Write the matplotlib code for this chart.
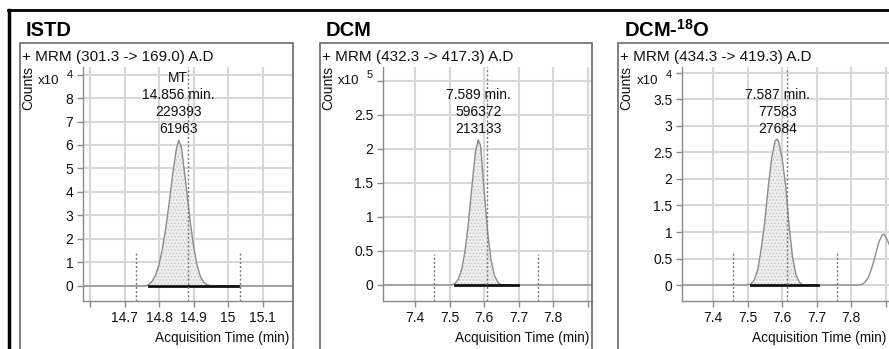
import numpy as np
import matplotlib
matplotlib.use('Agg')
import matplotlib.pyplot as plt
from matplotlib.lines import Line2D
from matplotlib.patches import Rectangle
from matplotlib.transforms import blended_transform_factory

plt.rcParams['font.family'] = ['Liberation Sans', 'DejaVu Sans']
plt.rcParams['mathtext.fontset'] = 'custom'
plt.rcParams['mathtext.rm'] = 'Liberation Sans'
plt.rcParams['mathtext.bf'] = 'Liberation Sans:bold'
plt.rcParams['hatch.linewidth'] = 0.6

W, H = 889, 349

# ---------------- data ----------------
titles = ['ISTD', 'DCM', r'DCM-$^{\mathbf{18}}$O']
headers = ['+ MRM (301.3 -> 169.0) A.D', '+ MRM (432.3 -> 417.3) A.D',
           '+ MRM (434.3 -> 419.3) A.D']
exponents = ['4', '5', '4']

istd_t = [14.58, 14.76, 14.77, 14.78, 14.79, 14.80, 14.81, 14.82, 14.83, 14.84,
          14.85, 14.857, 14.865, 14.87, 14.88, 14.89, 14.90, 14.91, 14.92, 14.93,
          14.94, 14.95, 15.19]
istd_c = [0, 0, 0.05, 0.2, 0.45, 0.9, 1.6, 2.5, 3.6, 4.8,
          5.8, 6.2, 5.9, 5.3, 4.1, 2.8, 1.7, 0.9, 0.4, 0.15,
          0.05, 0, 0]

dcm_t = [7.30, 7.505, 7.515, 7.525, 7.535, 7.545, 7.555, 7.565, 7.575, 7.583,
         7.59, 7.60, 7.61, 7.62, 7.63, 7.64, 7.65, 7.92]
dcm_c = [0, 0, 0.02, 0.08, 0.22, 0.5, 0.92, 1.45, 1.95, 2.13,
         2.05, 1.4, 0.8, 0.38, 0.14, 0.04, 0, 0]

o18_t = [7.30, 7.50, 7.51, 7.52, 7.53, 7.54, 7.55, 7.56, 7.57, 7.58,
         7.586, 7.59, 7.60, 7.61, 7.62, 7.63, 7.64, 7.65, 7.66, 7.82,
         7.83, 7.84, 7.85, 7.86, 7.87, 7.88, 7.89, 7.895, 7.905, 7.915]
o18_c = [0, 0, 0.02, 0.1, 0.3, 0.7, 1.2, 1.85, 2.4, 2.72,
         2.75, 2.7, 2.4, 1.9, 1.15, 0.55, 0.2, 0.06, 0, 0,
         0.01, 0.05, 0.14, 0.32, 0.55, 0.8, 0.94, 0.96, 0.85, 0.7]

# integration: baseline start/end, window markers, expected RT, apex
base_start = [14.77, 7.515, 7.51]
base_end = [15.03, 7.698, 7.704]
win_lo = [14.733, 7.455, 7.458]
win_hi = [15.035, 7.757, 7.759]
win_h = [1.4, 0.46, 0.6]
rt_marker = [14.883, 7.609, 7.614]
apex_t = [14.856, 7.584, 7.586]
labels = [['MT', '14.856 min.', '229393', '61963'],
          ['7.589 min.', '596372', '213133'],
          ['7.587 min.', '77583', '27684']]

xticks = [[14.6, 14.7, 14.8, 14.9, 15.0, 15.1],
          [7.4, 7.5, 7.6, 7.7, 7.8, 7.9],
          [7.4, 7.5, 7.6, 7.7, 7.8, 7.9]]
xticklabels = [['', '14.7', '14.8', '14.9', '15', '15.1'],
               ['7.4', '7.5', '7.6', '7.7', '7.8', ''],
               ['7.4', '7.5', '7.6', '7.7', '7.8', '']]
yticks = [[0, 1, 2, 3, 4, 5, 6, 7, 8, 9],
          [0, 0.5, 1, 1.5, 2, 2.5, 3],
          [0, 0.5, 1, 1.5, 2, 2.5, 3, 3.5, 4]]
yticklabels = [['0', '1', '2', '3', '4', '5', '6', '7', '8', ''],
               ['0', '0.5', '1', '1.5', '2', '2.5', ''],
               ['0', '0.5', '1', '1.5', '2', '2.5', '3', '3.5', '']]

series_t = [istd_t, dcm_t, o18_t]
series_c = [istd_c, dcm_c, o18_c]

# ---------------- layout (pixels) ----------------
frame_l = [20, 320, 618]
frame_r = [293, 592, 900]
ax_l = [83, 383, 682]
ax_r = [292, 592, 889]
ax_t, ax_b = 67, 301
xlims = [(14.5797, 15.1855), (7.3072, 7.913), (7.31, 7.910)]
ylims = [(-0.64, 9.32), (-0.235, 3.2), (-0.3, 4.11)]
label_top = [78, 95, 95]


def fx(px):
    return px / W


def fy(py):
    return 1 - py / H


fig = plt.figure(figsize=(W / 100, H / 100), dpi=100)

# outer black border
fig.add_artist(Line2D([fx(8), 1], [fy(10), fy(10)], color='black', lw=2))
fig.add_artist(Line2D([fx(8.5), fx(8.5)], [fy(10), 0], color='black', lw=2.5))

for i in range(3):
    fig.add_artist(Rectangle((fx(frame_l[i]), -0.1), fx(frame_r[i] - frame_l[i]),
                             fy(43) + 0.1, fill=False, edgecolor='#6a6a6a', lw=1.2))
    fig.text(fx(frame_l[i] + 6), fy(30), titles[i], fontsize=14.5,
             fontweight='bold', va='center', ha='left')
    fig.text(fx(frame_l[i] + 2), fy(57), headers[i], fontsize=11,
             va='center', ha='left', color='#111')
    fig.text(fx(frame_l[i] + 8), fy(66), 'Counts', rotation=90, fontsize=10,
             va='top', ha='center', color='#111')
    fig.text(fx(ax_l[i] - 24), fy(81), 'x10', fontsize=9.5, va='center',
             ha='right', color='#111')
    fig.text(fx(ax_l[i] - 16), fy(75), exponents[i], fontsize=8,
             va='center', ha='left', color='#111')

    ax = fig.add_axes([fx(ax_l[i]), fy(ax_b), fx(ax_r[i] - ax_l[i]),
                       (ax_b - ax_t) / H])
    ax.set_xlim(*xlims[i])
    ax.set_ylim(*ylims[i])
    ax.set_xticks(xticks[i])
    ax.set_xticklabels(xticklabels[i])
    ax.set_yticks(yticks[i])
    ax.set_yticklabels(yticklabels[i])
    ax.grid(True, color='#d8d8d8', lw=1.5)
    ax.set_axisbelow(True)
    for s in ['top', 'right']:
        ax.spines[s].set_visible(False)
    for s in ['left', 'bottom']:
        ax.spines[s].set_color('#8a8a8a')
        ax.spines[s].set_linewidth(1)
    ax.tick_params(direction='out', length=4, width=1, color='#8a8a8a',
                   labelsize=10, labelcolor='#111', pad=3)
    ax.patch.set_alpha(0)

    t = np.array(series_t[i])
    c = np.array(series_c[i])
    m = (t >= base_start[i]) & (t <= base_end[i])
    ax.fill_between(t[m], 0, c[m], facecolor='#eeeeee', edgecolor='#c4c4c4',
                    hatch='.....', linewidth=0)
    ax.plot(t, c, color='#8c8c8c', lw=1)
    ax.plot([base_start[i], base_end[i]], [0, 0], color='#111', lw=2)
    ax.vlines([win_lo[i], win_hi[i]], ylims[i][0], win_h[i], colors='#777',
              linestyles=(0, (1.5, 1.5)), lw=1)
    ax.axvline(rt_marker[i], color='#777', ls=(0, (1.5, 1.5)), lw=1)

    tr = blended_transform_factory(ax.transData, fig.transFigure)
    for k, s in enumerate(labels[i]):
        fig.text(apex_t[i], fy(label_top[i] + k * 17), s, transform=tr,
                 fontsize=10, ha='center', va='center', color='#111')

    fig.text(fx(ax_r[i] - 3), fy(338), 'Acquisition Time (min)', fontsize=9.8,
             ha='right', va='center', color='#111')

fig.savefig('out.png', dpi=100)
